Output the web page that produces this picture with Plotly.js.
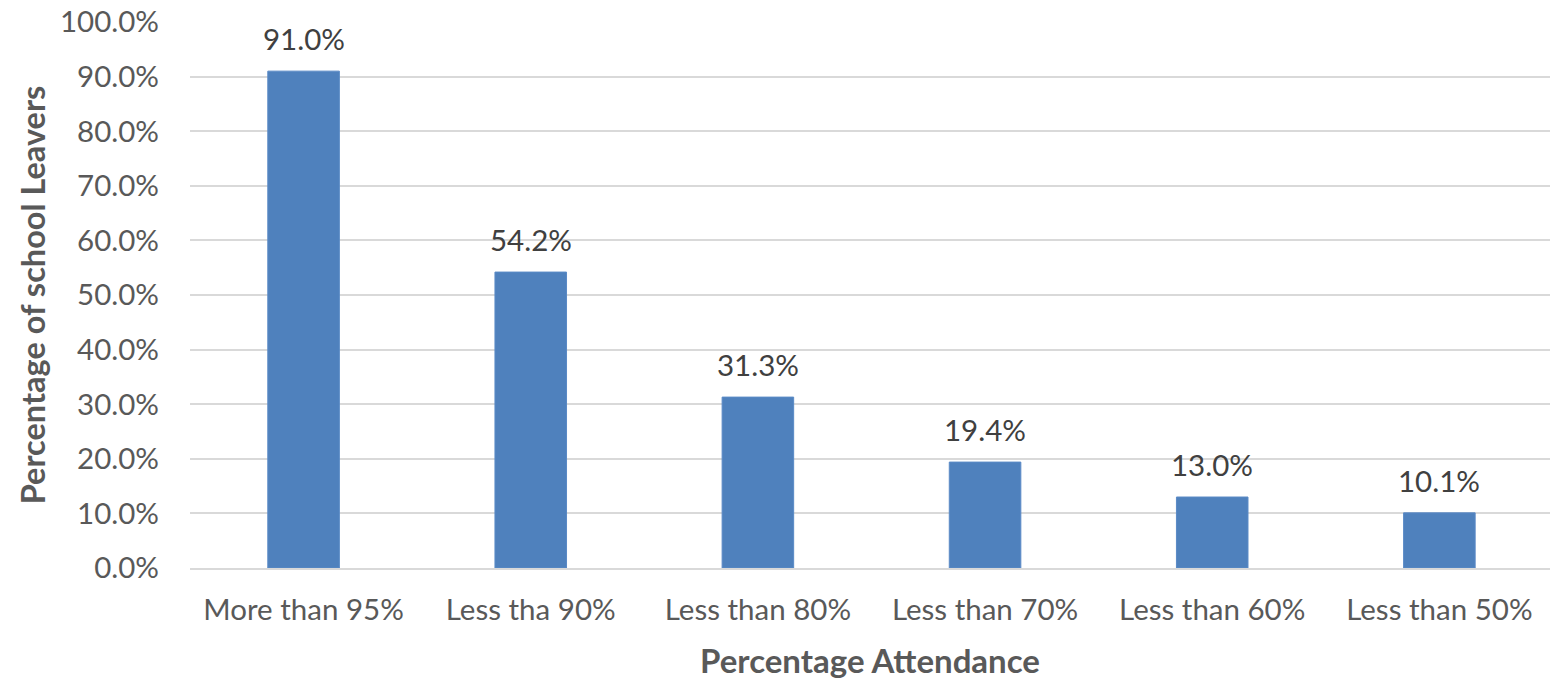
<!DOCTYPE html>
<html><head><meta charset="utf-8">
<script src="https://cdn.plot.ly/plotly-3.0.1.min.js"></script>
<style>html,body{margin:0;padding:0;background:#fff;}#chart{width:1550px;height:681px;}</style>
</head><body><div id="chart"></div>
<script>
const categories = ["More than 95%", "Less tha 90%", "Less than 80%", "Less than 70%", "Less than 60%", "Less than 50%"];
const values = [0.910, 0.542, 0.313, 0.194, 0.130, 0.101];
const tickValues = [0, 0.1, 0.2, 0.3, 0.4, 0.5, 0.6, 0.7, 0.8, 0.9, 1.0];

const font = "Lato, Open Sans, sans-serif";
const grey = "#595959";

const trace = {
  type: "bar", x: categories, y: values,
  marker: {color: "#4f81bd", line: {color: "#5a8ac6", width: 1}},
  width: 0.315, hoverinfo: "skip"
};
const annotations = categories.map((c, i) => ({
  x: c, y: values[i], xref: "x", yref: "y",
  text: (values[i] * 100).toFixed(1) + "%",
  showarrow: false, yanchor: "bottom", yshift: 13,
  font: {family: font, size: 29.5, color: "#404040"}
}));
annotations.push({
  xref: "paper", yref: "paper", x: -0.116, y: 0.5, xanchor: "center", yanchor: "middle",
  text: "<b>Percentage of school Leavers</b>", textangle: -90, showarrow: false,
  font: {family: font, size: 32.5, color: grey}
});
const layout = {
  width: 1550, height: 681,
  margin: {l: 190, r: 0, t: 22, b: 113},
  paper_bgcolor: "#fff", plot_bgcolor: "#fff",
  showlegend: false,
  bargap: 0.68,
  xaxis: {
    range: [-0.5, 5.487],
    tickfont: {family: font, size: 29.5, color: grey},
    showline: true, linecolor: "#d9d9d9", linewidth: 2,
    ticks: "", ticklabelstandoff: 15,
    title: {text: "<b>Percentage Attendance</b>", font: {family: font, size: 33, color: grey}, standoff: 24}
  },
  yaxis: {
    range: [0, 1], tickvals: tickValues, tickformat: ".1%",
    tickfont: {family: font, size: 29.5, color: grey},
    gridcolor: "#d9d9d9", gridwidth: 2, zeroline: false,
    ticks: "", ticklabelstandoff: 30
  },
  annotations: annotations
};
Plotly.newPlot("chart", [trace], layout, {displayModeBar: false, staticPlot: true});
</script></body></html>
